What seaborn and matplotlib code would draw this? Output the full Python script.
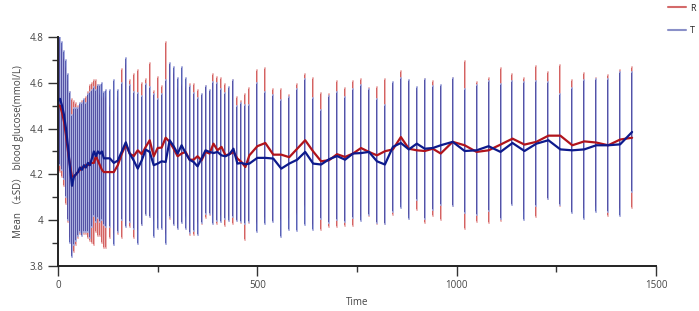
import matplotlib
matplotlib.use("Agg")
import matplotlib.pyplot as plt
import matplotlib.patheffects as pe
from matplotlib.lines import Line2D
from matplotlib.ticker import MultipleLocator, FuncFormatter
import numpy as np
import pandas as pd
import seaborn as sns

# time points (min): every 5 min up to 120, then 10, 20, 30 min
time = [0, 5, 10, 15, 20, 25, 30, 35, 40, 45, 50, 55, 60, 65, 70, 75, 80, 85, 90, 95, 100, 105, 110, 115, 120,
        130, 140, 150, 160, 170, 180, 190,
        200, 210, 220, 230, 240, 250, 260, 270, 280, 290, 300, 310, 320, 330, 340, 350, 360, 370, 380, 390,
        400, 410, 420, 430, 440, 450, 460, 470, 480,
        500, 520, 540, 560, 580, 600, 620, 640, 660, 680, 700, 720, 740, 760, 780, 800, 820, 840, 860, 880,
        900, 920, 940, 960,
        990, 1020, 1050, 1080, 1110, 1140, 1170, 1200, 1230, 1260, 1290, 1320, 1350, 1380, 1410, 1440]

r_mean = [4.50, 4.50, 4.47, 4.43, 4.37, 4.30, 4.24, 4.19, 4.19, 4.20, 4.21, 4.22, 4.23, 4.23, 4.24, 4.24, 4.25,
          4.25, 4.25, 4.28, 4.26, 4.24, 4.22, 4.21, 4.21,
          4.21, 4.21, 4.24, 4.29, 4.33, 4.29, 4.28,
          4.305, 4.288, 4.320, 4.349, 4.279, 4.315, 4.317, 4.360, 4.342, 4.312, 4.279, 4.291, 4.298, 4.264,
          4.264, 4.279, 4.261, 4.298, 4.291, 4.334, 4.305, 4.320, 4.283, 4.288, 4.298, 4.269, 4.254, 4.232, 4.283,
          4.323, 4.337, 4.286, 4.286, 4.275, 4.312, 4.349, 4.300, 4.257, 4.262, 4.288, 4.276, 4.291, 4.315,
          4.298, 4.283, 4.301, 4.309, 4.363, 4.312, 4.305, 4.302, 4.312, 4.291,
          4.342, 4.327, 4.298, 4.305, 4.330, 4.356, 4.330, 4.342, 4.369, 4.369, 4.327, 4.344, 4.339, 4.327,
          4.352, 4.360]
r_sd = [0.30, 0.29, 0.28, 0.28, 0.30, 0.31, 0.32, 0.34, 0.33, 0.31, 0.29, 0.28, 0.29, 0.29, 0.30, 0.32, 0.34,
        0.35, 0.36, 0.33, 0.33, 0.31, 0.32, 0.33, 0.33,
        0.29, 0.27, 0.30, 0.37, 0.35, 0.32, 0.36,
        0.35, 0.31, 0.295, 0.337, 0.285, 0.31, 0.27, 0.42, 0.336, 0.33, 0.30, 0.30, 0.283, 0.33, 0.33, 0.29,
        0.28, 0.29, 0.27, 0.306, 0.32, 0.30, 0.31, 0.275, 0.316, 0.27, 0.266, 0.32, 0.296,
        0.334, 0.329, 0.288, 0.286, 0.27, 0.284, 0.288, 0.322, 0.30, 0.29, 0.32, 0.303, 0.317, 0.30, 0.28,
        0.30, 0.316, 0.286, 0.289, 0.29, 0.262, 0.316, 0.295, 0.29,
        0.28, 0.367, 0.305, 0.318, 0.333, 0.284, 0.29, 0.33, 0.278, 0.308, 0.285, 0.297, 0.28, 0.309, 0.305, 0.309]

t_mean = [4.52, 4.53, 4.50, 4.46, 4.40, 4.32, 4.23, 4.15, 4.19, 4.20, 4.21, 4.23, 4.22, 4.24, 4.23, 4.25, 4.24,
          4.27, 4.30, 4.28, 4.30, 4.29, 4.30, 4.27, 4.27,
          4.27, 4.25, 4.26, 4.30, 4.34, 4.29, 4.26,
          4.225, 4.261, 4.308, 4.298, 4.240, 4.247, 4.257, 4.254, 4.349, 4.323, 4.291, 4.327, 4.293, 4.264,
          4.254, 4.235, 4.269, 4.305, 4.298, 4.293, 4.298, 4.283, 4.279, 4.288, 4.312, 4.247, 4.250, 4.244, 4.247,
          4.272, 4.272, 4.269, 4.225, 4.247, 4.264, 4.298, 4.247, 4.243, 4.266, 4.280, 4.264, 4.291, 4.293,
          4.298, 4.257, 4.243, 4.320, 4.337, 4.309, 4.334, 4.312, 4.315, 4.327,
          4.342, 4.302, 4.305, 4.323, 4.298, 4.337, 4.302, 4.334, 4.349, 4.309, 4.305, 4.309, 4.327, 4.327,
          4.331, 4.385]
t_sd = [0.30, 0.29, 0.28, 0.28, 0.30, 0.32, 0.33, 0.31, 0.30, 0.29, 0.28, 0.28, 0.29, 0.29, 0.28, 0.30, 0.32,
        0.30, 0.28, 0.29, 0.29, 0.30, 0.30, 0.29, 0.30,
        0.30, 0.36, 0.31, 0.30, 0.37, 0.30, 0.30,
        0.33, 0.283, 0.286, 0.284, 0.313, 0.284, 0.296, 0.36, 0.337, 0.345, 0.33, 0.34, 0.33, 0.32, 0.30, 0.30,
        0.28, 0.28, 0.27, 0.31, 0.30, 0.29, 0.276, 0.293, 0.30, 0.25, 0.26, 0.26, 0.256,
        0.326, 0.289, 0.278, 0.298, 0.29, 0.31, 0.32, 0.288, 0.24, 0.277, 0.278, 0.274, 0.28, 0.298, 0.277,
        0.27, 0.262, 0.284, 0.282, 0.305, 0.246, 0.306, 0.27, 0.262,
        0.28, 0.27, 0.284, 0.284, 0.295, 0.27, 0.30, 0.274, 0.256, 0.244, 0.273, 0.302, 0.291, 0.29, 0.315, 0.26]

sns.set_style("ticks")
plt.rcParams["font.family"] = ["Open Sans", "Noto Sans CJK SC", "DejaVu Sans"]

df = pd.DataFrame({"Time": time, "R": r_mean, "T": t_mean, "R_sd": r_sd, "T_sd": t_sd})

fig = plt.figure(figsize=(6.99, 3.11), dpi=100)
ax = fig.add_axes([0.083, 0.145, 0.8555, 0.736])

# error bars: light core with darker outline (R below, T above)
for col, light, dark in [("R", "#eeb8b8", "#cf5252"), ("T", "#adb2e0", "#4851ad")]:
    _, caps, bars = ax.errorbar(df["Time"], df[col], yerr=df[col + "_sd"], fmt="none",
                                ecolor=light, elinewidth=0.7, capsize=1.0, capthick=1.1)
    for b in bars:
        b.set_path_effects([pe.Stroke(linewidth=1.3, foreground=dark), pe.Normal()])
    for c in caps:
        c.set_color(dark)

sns.lineplot(data=df, x="Time", y="R", color="#b0141c", lw=1.6, ax=ax)
sns.lineplot(data=df, x="Time", y="T", color="#0d1a8c", lw=1.6, ax=ax)

ax.set_xlim(0, 1500)
ax.set_ylim(3.8, 4.8)
ax.xaxis.set_major_locator(MultipleLocator(500))
ax.xaxis.set_minor_locator(MultipleLocator(250))
ax.yaxis.set_major_locator(MultipleLocator(0.2))
ax.yaxis.set_minor_locator(MultipleLocator(0.1))
ax.yaxis.set_major_formatter(FuncFormatter(lambda v, p: f"{v:g}"))
ax.tick_params(which="major", length=7, width=1, color="#333333", labelsize=7, labelcolor="#444444")
ax.tick_params(which="minor", length=4, width=1, color="#333333")
for s in ["top", "right"]:
    ax.spines[s].set_visible(False)
for s in ["left", "bottom"]:
    ax.spines[s].set_linewidth(1.4)
    ax.spines[s].set_color("#222222")

ax.set_xlabel("Time", fontsize=7, color="#444444")
ax.set_ylabel("Mean （±SD） blood glucose(mmol/L)", fontsize=7, color="#444444")

handles = [Line2D([], [], color="#d46a6a", lw=1.5), Line2D([], [], color="#8a90c8", lw=1.5)]
fig.legend(handles, ["R", "T"], loc="upper right", bbox_to_anchor=(1.0, 1.0), frameon=False,
           fontsize=6.5, handlelength=2.0, labelspacing=1.5, handletextpad=0.4, borderaxespad=0.0)

fig.savefig("out.png", dpi=100)
